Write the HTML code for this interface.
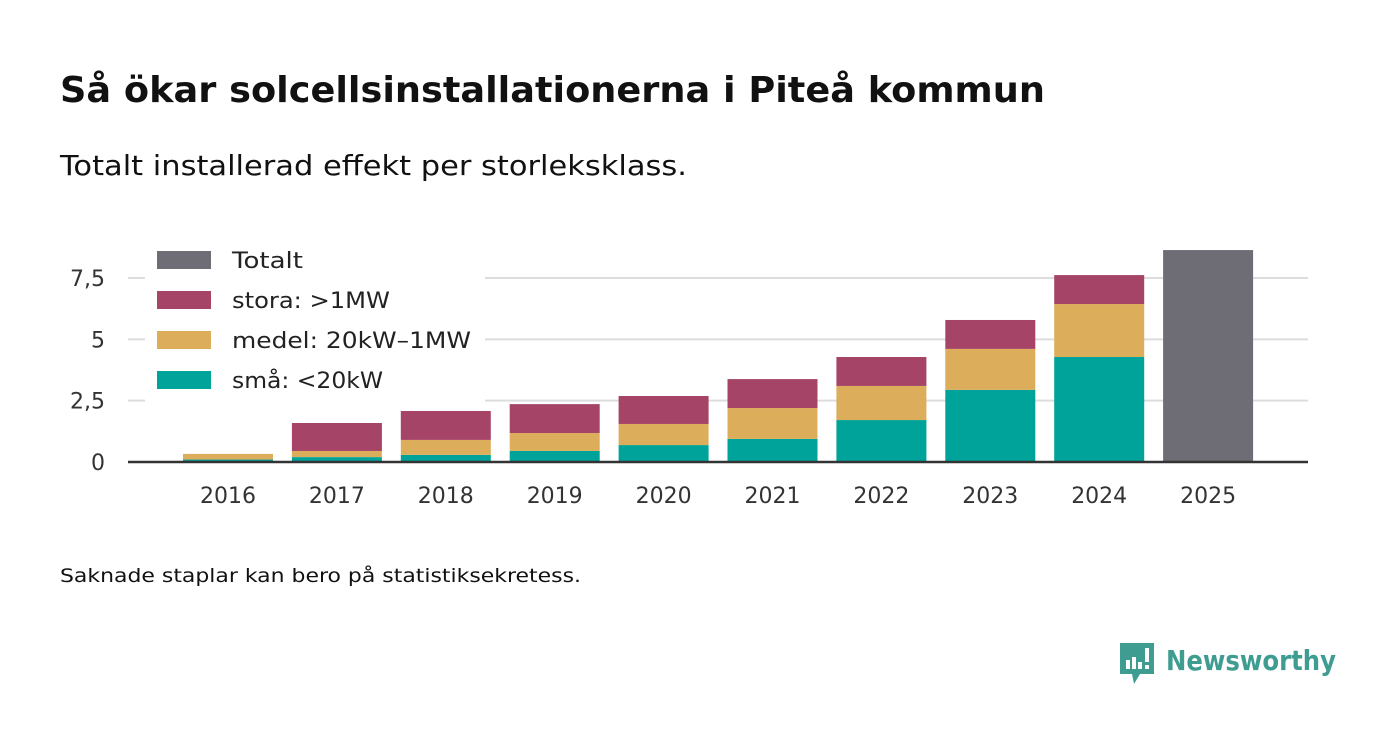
<!DOCTYPE html>
<html><head><meta charset="utf-8"><style>
body{margin:0;background:#fff;width:1400px;height:745px;overflow:hidden;font-family:"DejaVu Sans","Liberation Sans",sans-serif;}
</style></head><body>
<svg width="1400" height="745" xmlns="http://www.w3.org/2000/svg" font-family="DejaVu Sans, Liberation Sans, sans-serif">
<text x="60" y="102" font-size="36" font-weight="bold" fill="#111" textLength="985" lengthAdjust="spacingAndGlyphs">Så ökar solcellsinstallationerna i Piteå kommun</text>
<text x="60" y="175" font-size="28" fill="#111" textLength="627" lengthAdjust="spacingAndGlyphs">Totalt installerad effekt per storleksklass.</text>
<g id="grid"></g>
<g id="bars"></g>
<g id="legend"></g>
<text x="60" y="582" font-size="19" fill="#111" textLength="521" lengthAdjust="spacingAndGlyphs">Saknade staplar kan bero på statistiksekretess.</text>
<g>
<path d="M1120 643 h34 v31 h-14 l-6 10 l-2 -10 h-12 z" fill="#3f9c91"/>
<rect x="1126" y="660" width="4" height="9" fill="#fff"/><rect x="1132" y="657" width="4" height="12" fill="#fff"/><rect x="1138" y="662" width="4" height="7" fill="#fff"/><rect x="1145" y="648" width="4" height="14" fill="#fff"/><rect x="1145" y="665" width="4" height="4" fill="#fff"/>
<text x="1166" y="670" font-size="28" font-weight="bold" fill="#3f9c91" textLength="170" lengthAdjust="spacingAndGlyphs">Newsworthy</text>
</g>
</svg>
<script>
const years=["2016","2017","2018","2019","2020","2021","2022","2023","2024","2025"];
const sma=[0.10,0.20,0.29,0.45,0.69,0.94,1.71,2.94,4.28,0];
const medel=[0.23,0.25,0.61,0.73,0.86,1.26,1.39,1.67,2.16,0];
const stora=[0,1.14,1.18,1.18,1.14,1.18,1.18,1.18,1.18,0];
const totalt=[0,0,0,0,0,0,0,0,0,8.64];
const ticks=[0,2.5,5,7.5];
const tickLabels=["0","2,5","5","7,5"];
const NS="http://www.w3.org/2000/svg";
const y0=462,pxPer=24.53;
const yS=v=>y0-v*pxPer;
const xS=i=>228+i*108.9;
function mk(t,a,p){const e=document.createElementNS(NS,t);for(const k in a)e.setAttribute(k,a[k]);p.appendChild(e);return e;}
const grid=document.getElementById('grid');
ticks.forEach((t,i)=>{
 if(t>0){const l=mk('line',{x1:128,x2:1308,y1:yS(t),y2:yS(t),stroke:'#ddd','stroke-width':2},grid);
 
 }
 const tx=mk('text',{x:105,y:yS(t)+8,'font-size':22,fill:'#333','text-anchor':'end'},grid);tx.textContent=tickLabels[i];
 
 
});
const bars=document.getElementById('bars');
const series=[[sma,'#00a39a','sma'],[medel,'#dcae5b','medel'],[stora,'#a64467','stora'],[totalt,'#6e6d75','totalt']];
years.forEach((yr,i)=>{
 let base=0;
 series.forEach(([arr,c,n])=>{const v=arr[i];if(v>0){
  const r=mk('rect',{x:xS(i)-45,width:90,y:yS(base+v),height:v*pxPer,fill:c},bars);
  
  
  base+=v;}});
 const t=mk('text',{x:xS(i),y:503,'font-size':22,fill:'#333','text-anchor':'middle'},bars);t.textContent=yr;
 
 
});
const ax=mk('line',{x1:128,x2:1308,y1:y0,y2:y0,stroke:'#333','stroke-width':2.5},bars);


const lg=document.getElementById('legend');
const bg=mk('rect',{x:145,y:242,width:340,height:160,fill:'#fff'},lg);


const items=[['Totalt','#6e6d75',71],['stora: >1MW','#a64467',158],['medel: 20kW–1MW','#dcae5b',239],['små: <20kW','#00a39a',151]];
items.forEach(([l,c,w],i)=>{
 const g=mk('g',{},lg);
 
 
 mk('rect',{x:157,y:251+i*40,width:54,height:18,fill:c},g);
 const t=mk('text',{x:232,y:268+i*40,'font-size':22,fill:'#222',textLength:w,lengthAdjust:'spacingAndGlyphs'},g);t.textContent=l;
});
</script>
</body></html>
